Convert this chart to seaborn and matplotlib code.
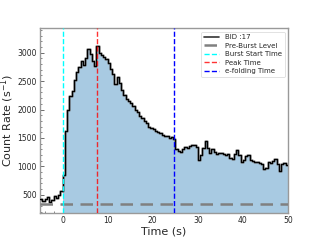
import matplotlib
matplotlib.use("Agg")
import matplotlib.pyplot as plt
import seaborn as sns
import numpy as np
import pandas as pd
from matplotlib.ticker import MultipleLocator
from matplotlib.lines import Line2D

sns.set_style("ticks")
plt.rcParams['font.family'] = ['DejaVu Sans']

# time bin starts (s) and count rates (s^-1)
times = [-5.0, -4.5, -4.0, -3.5, -3.0, -2.5, -2.0, -1.5, -1.0, -0.5,
         0.0, 0.5, 1.0, 1.5, 2.0, 2.5, 3.0, 3.5, 4.0, 4.5,
         5.0, 5.5, 6.0, 6.5, 7.0, 7.5, 8.0, 8.5, 9.0, 9.5,
         10.0, 10.5, 11.0, 11.5, 12.0, 12.5, 13.0, 13.5, 14.0, 14.5,
         15.0, 15.5, 16.0, 16.5, 17.0, 17.5, 18.0, 18.5, 19.0, 19.5,
         20.0, 20.5, 21.0, 21.5, 22.0, 22.5, 23.0, 23.5, 24.0, 24.5,
         25.0, 25.5, 26.0, 26.5, 27.0, 27.5, 28.0, 28.5, 29.0, 29.5,
         30.0, 30.5, 31.0, 31.5, 32.0, 32.5, 33.0, 33.5, 34.0, 34.5,
         35.0, 35.5, 36.0, 36.5, 37.0, 37.5, 38.0, 38.5, 39.0, 39.5,
         40.0, 40.5, 41.0, 41.5, 42.0, 42.5, 43.0, 43.5, 44.0, 44.5,
         45.0, 45.5, 46.0, 46.5, 47.0, 47.5, 48.0, 48.5, 49.0, 49.5, 50.0]
rates = [430, 390, 420, 470, 380, 400, 480, 450, 500, 570,
         850, 1620, 1990, 2230, 2330, 2520, 2660, 2750, 2850, 2780,
         2900, 3070, 2980, 2850, 2760, 3110, 3000, 2950, 2930, 2880,
         2820, 2720, 2620, 2450, 2580, 2470, 2340, 2250, 2180, 2150,
         2120, 2060, 2000, 1960, 1890, 1850, 1790, 1760, 1700, 1680,
         1650, 1620, 1600, 1590, 1560, 1540, 1530, 1500, 1510, 1480,
         1300, 1270, 1250, 1300, 1340, 1320, 1360, 1370, 1380, 1340,
         1120, 1200, 1330, 1440, 1330, 1240, 1300, 1260, 1210, 1240,
         1230, 1220, 1200, 1210, 1150, 1130, 1220, 1290, 1200, 1080,
         1110, 1180, 1200, 1110, 1090, 1080, 1070, 1060, 1050, 960,
         970, 1070, 1060, 1100, 1130, 1050, 920, 1040, 1060, 1030, 1030]

pre_burst_level = 340
burst_start = 0.0
peak_time = 7.75
efold_time = 24.75
bid_label = "BID :17"

df = pd.DataFrame({"Time": times, "Rate": rates})

fig = plt.figure(figsize=(3.2, 2.4), dpi=100)
ax = fig.add_axes([0.125, 0.1125, 0.775, 0.77])

ymin, ymax = 180, 3430
burst = df[df["Time"] >= burst_start]
ax.fill_between(burst["Time"], ymin, burst["Rate"], step="post",
                color="#a8cae2", linewidth=0, zorder=1)

# gray error-like underlay
ax.plot(df["Time"], df["Rate"], drawstyle="steps-post", color="gray",
        lw=2.0, alpha=0.55, zorder=2)
sns.lineplot(data=df, x="Time", y="Rate", drawstyle="steps-post",
             color="black", lw=1.0, ax=ax, zorder=3, legend=False)

ax.axhline(pre_burst_level, color="gray", ls=(0, (5, 3)), lw=1.8,
           label="Pre-Burst Level", zorder=4)
ax.axvline(burst_start, color="cyan", ls="--", lw=1.0,
           label="Burst Start Time", zorder=4)
ax.axvline(peak_time, color="red", ls="--", lw=1.0, alpha=0.8,
           label="Peak Time", zorder=4)
ax.axvline(efold_time, color="blue", ls="--", lw=1.0,
           label="e-folding Time", zorder=4)

ax.set_xlim(-5, 50)
ax.set_ylim(ymin, ymax)
ax.xaxis.set_major_locator(MultipleLocator(10))
ax.xaxis.set_minor_locator(MultipleLocator(2))
ax.yaxis.set_major_locator(MultipleLocator(500))
ax.yaxis.set_minor_locator(MultipleLocator(100))
ax.tick_params(axis="both", which="major", direction="in", length=3,
               width=0.6, labelsize=5.5, color="#555555", pad=2.5)
ax.tick_params(axis="both", which="minor", direction="in", length=1.5,
               width=0.5, color="#555555")
for s in ax.spines.values():
    s.set_color("#999999")
    s.set_linewidth(1.0)

ax.set_xlabel("Time (s)", fontsize=8, labelpad=1)
ax.set_ylabel("Count Rate (s$^{-1}$)", fontsize=8)
ax.yaxis.set_label_coords(-0.095, 0.5)

handles, labels = ax.get_legend_handles_labels()
h0 = Line2D([], [], color="#333333", lw=1.2)
hs = [h0] + handles
ls = [bid_label] + labels
leg = ax.legend(hs, ls, loc="upper right", fontsize=5, frameon=True,
                handlelength=2.2, borderpad=0.4, labelspacing=0.35,
                handletextpad=0.8, fancybox=True)
leg.get_frame().set_linewidth(0.5)

fig.savefig("out.png", dpi=100)
